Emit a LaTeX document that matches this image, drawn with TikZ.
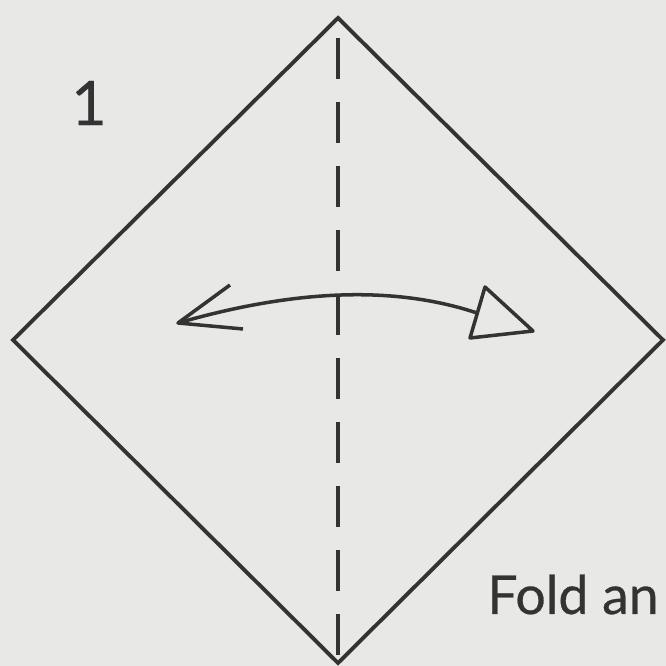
\documentclass[tikz,border=0pt]{standalone}
\usepackage{fontspec}
\setmainfont{Lato}
\newfontfamily\heavyfont[FakeBold=0.5]{Lato}
\definecolor{paper}{HTML}{E8E8E6}
\definecolor{ink}{HTML}{333333}
\tikzset{
  fold/.style={draw=ink, line width=2.2pt},
  valley/.style={draw=ink, line width=2pt, dash pattern=on 0.82cm off 0.46cm, dash phase=0.88cm},
  swing/.style={draw=ink, line width=2pt, line join=round}
}
\begin{document}
\begin{tikzpicture}
\fill[paper] (0,0) rectangle (13.32,13.32);
\useasboundingbox (0,0) rectangle (13.32,13.32);

\coordinate (top) at (6.76,12.96);
\coordinate (left) at (0.26,6.52);
\coordinate (bottom) at (6.76,0.06);
\coordinate (right) at (13.26,6.52);

\draw[fold] (top) -- (right) -- (bottom) -- (left) -- cycle;
\draw[valley] (top) -- (bottom);

% fold and unfold arrow
\coordinate (tipl) at (3.56,6.86);
\coordinate (endr) at (9.54,7.06);
\draw[swing] (tipl) .. controls (5.68,7.47) and (7.74,7.66) .. (endr);
\draw[swing] (4.60,7.62) -- (tipl) -- (4.86,6.74);
\draw[swing] (9.70,7.58) -- (10.66,6.70) -- (9.40,6.56) -- cycle;

\node[inner sep=0, text=ink, font=\heavyfont\fontsize{35pt}{40pt}\selectfont] (num) at (1.78,11.26) {1};
\node[inner sep=0, anchor=base west, text=ink, font=\heavyfont\fontsize{30.5pt}{36pt}\selectfont] (cap) at (9.74,1.04) {Fold an};
\end{tikzpicture}
\end{document}
